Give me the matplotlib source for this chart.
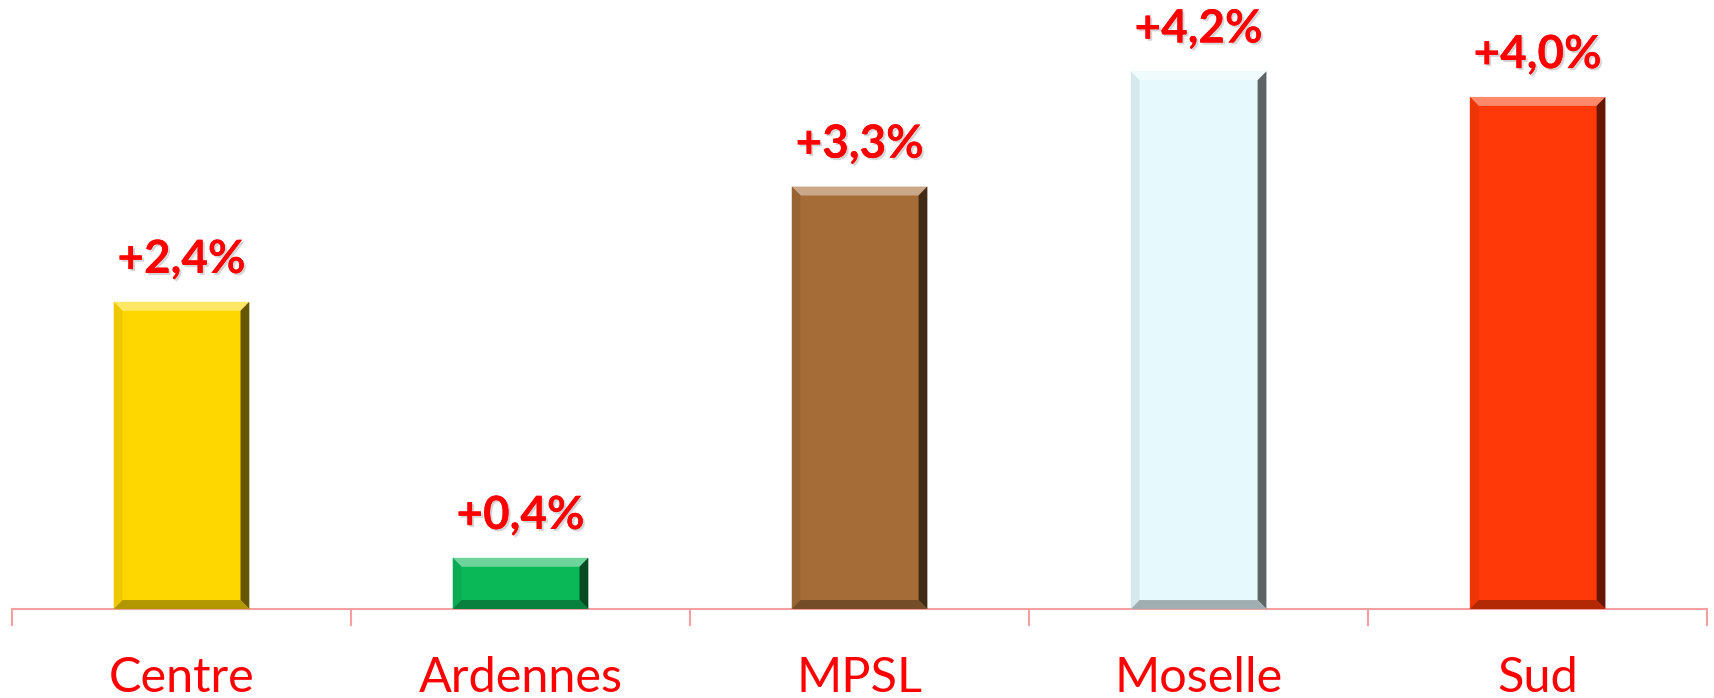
import matplotlib
matplotlib.use("Agg")
import matplotlib.pyplot as plt
import matplotlib.patheffects as pe
from matplotlib.patches import Polygon
import numpy as np
import matplotlib.colors as mcolors

categories = ["Centre", "Ardennes", "MPSL", "Moselle", "Sud"]
values = [2.4, 0.4, 3.3, 4.2, 4.0]
labels = ["+2,4%", "+0,4%", "+3,3%", "+4,2%", "+4,0%"]
colors = ["#FFD700", "#0BB858", "#A56C38", "#E6F9FD", "#FF3A08"]

fig = plt.figure(figsize=(17.14, 6.98), dpi=100)
ax = fig.add_axes([0.007, 0.1275, 0.989, 0.862])

x = np.arange(len(categories))
bars = ax.bar(x, values, width=0.4, color=colors, zorder=2)
ax.set_xlim(-0.5, len(categories) - 0.5)
ax.set_ylim(0, 4.7)

# bevel effect
bx = 0.026
by = 0.07
for b, c in zip(bars, colors):
    x0, w, h = b.get_x(), b.get_width(), b.get_height()
    x1 = x0 + w
    rgb = np.array(mcolors.to_rgb(c))
    light = tuple(np.clip(rgb + (1 - rgb) * 0.4, 0, 1))
    dark = tuple(rgb * 0.4)
    mid_dark = tuple(rgb * 0.7)
    lightish = tuple(np.clip(rgb * 0.93, 0, 1))
    polys = [
        ([(x0, h), (x1, h), (x1 - bx, h - by), (x0 + bx, h - by)], light),
        ([(x1, h), (x1, 0), (x1 - bx, by), (x1 - bx, h - by)], dark),
        ([(x0, h), (x0 + bx, h - by), (x0 + bx, by), (x0, 0)], lightish),
        ([(x0, 0), (x0 + bx, by), (x1 - bx, by), (x1, 0)], mid_dark),
    ]
    for pts, col in polys:
        ax.add_patch(Polygon(pts, closed=True, facecolor=col, edgecolor="none", zorder=3))

for xi, v, lab in zip(x, values, labels):
    ax.annotate(lab, (xi, v), xytext=(0, 15), textcoords="offset points",
                ha="center", va="bottom", color="#FF0000", fontsize=33,
                fontweight="bold", family="Lato",
                path_effects=[pe.withSimplePatchShadow(offset=(1.5, -1.5), shadow_rgbFace="#888888", alpha=0.35),
                              pe.Normal()])

for s in ["top", "left", "right"]:
    ax.spines[s].set_visible(False)
ax.spines["bottom"].set_color("#F4A0A0")
ax.spines["bottom"].set_linewidth(1.5)
ax.set_yticks([])
ax.set_xticks(x)
ax.set_xticklabels(categories, fontsize=35, color="#FF0000", family="Lato")
ax.tick_params(axis="x", which="major", length=0, pad=34)
ax.set_xticks(np.arange(-0.5, len(categories)), minor=True)
ax.tick_params(axis="x", which="minor", length=12, width=1.5, color="#F4A0A0", direction="out")

fig.savefig("out.png", dpi=100)
